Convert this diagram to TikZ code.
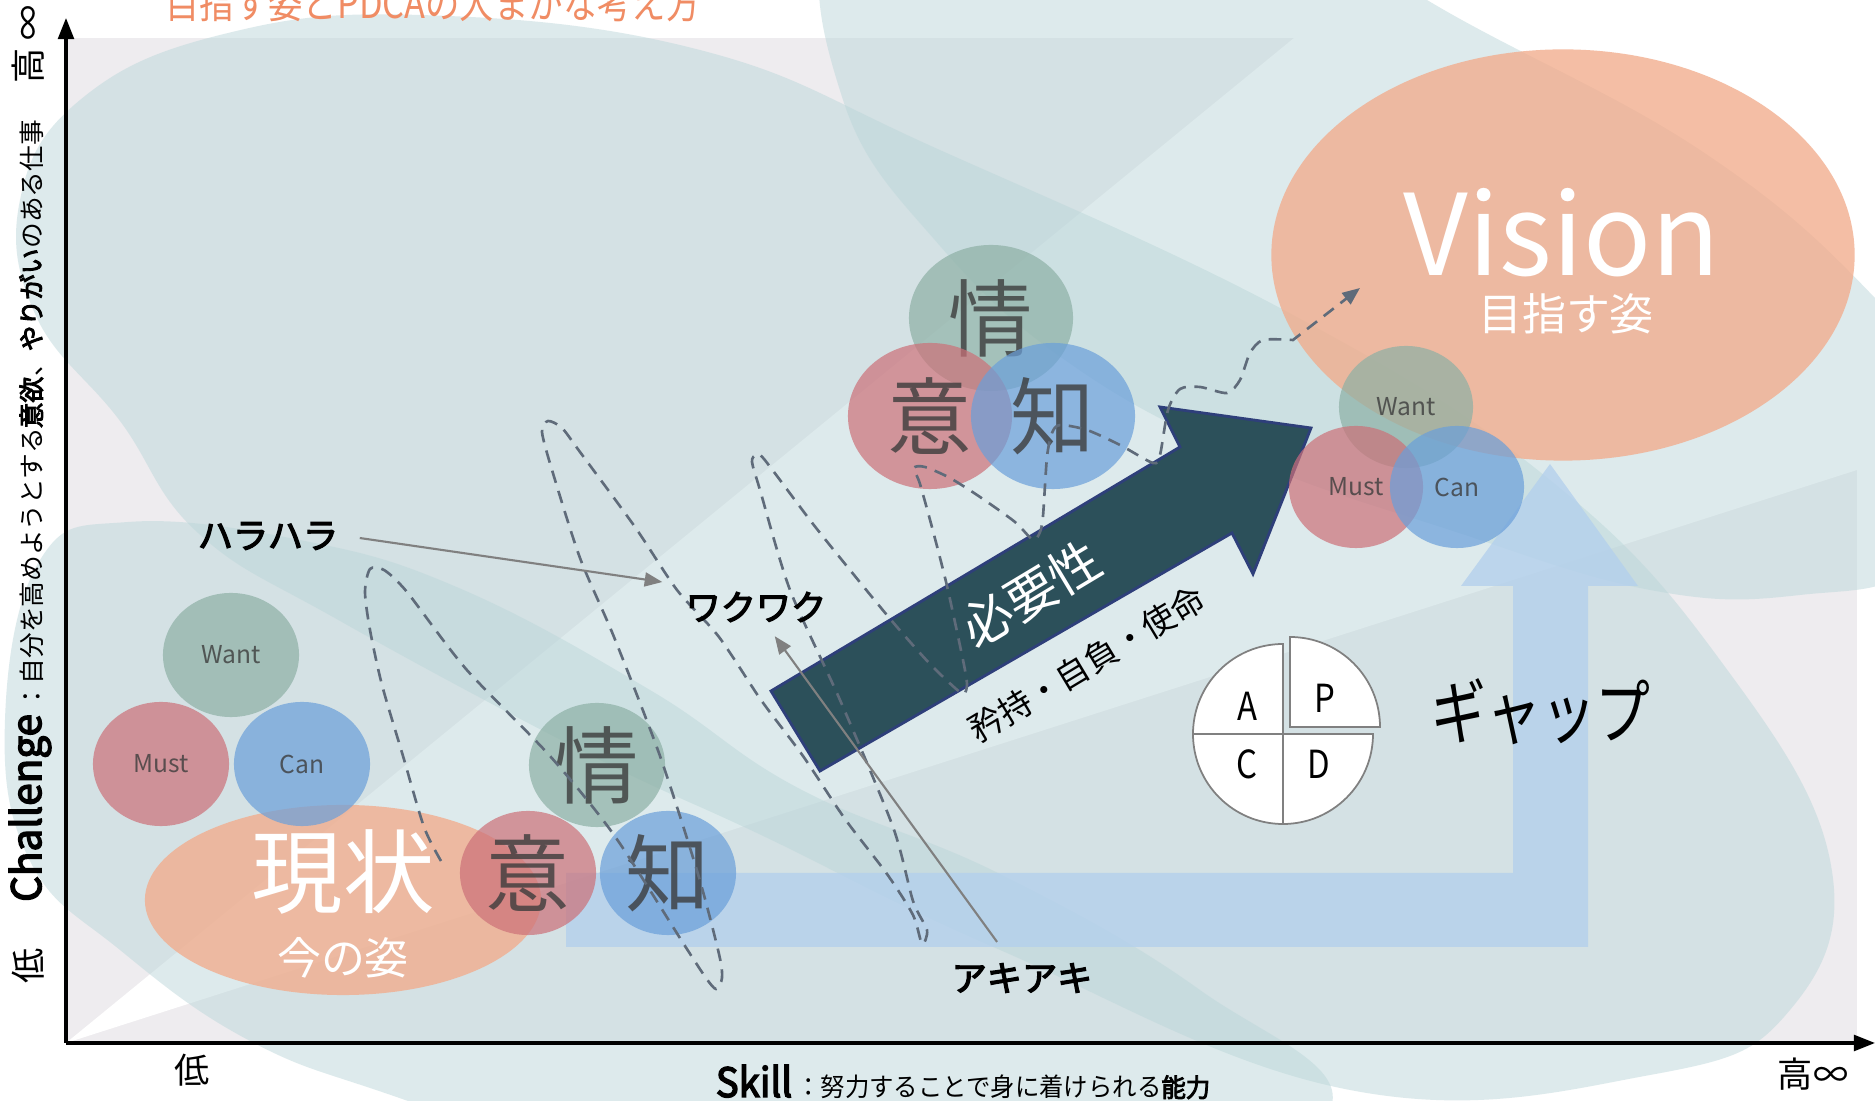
\documentclass[tikz,border=0pt]{standalone}
\usepackage{graphicx}
\usepackage{fontspec}
\setmainfont{Noto Sans CJK JP}[AutoFakeBold=3.5]
\usetikzlibrary{positioning,arrows.meta,shapes.geometric}
\newcommand{\setfs}[1]{\fontsize{#1}{#1}\selectfont}
\newcommand{\nar}[2][0.85]{\scalebox{#1}[1]{#2}}
\definecolor{lav}{RGB}{238,236,239}
\definecolor{haze}{RGB}{188,215,218}
\definecolor{salmon}{RGB}{242,172,140}
\definecolor{sage}{RGB}{141,176,165}
\definecolor{rose}{RGB}{204,112,120}
\definecolor{sky}{RGB}{106,159,218}
\definecolor{gapblue}{RGB}{180,208,236}
\definecolor{deepteal}{RGB}{44,80,90}
\definecolor{navyline}{RGB}{46,63,122}
\definecolor{coilgray}{RGB}{95,107,122}
\definecolor{titleorange}{RGB}{240,140,100}
\definecolor{glyphgray}{RGB}{60,60,60}

\begin{document}
\begin{tikzpicture}[x=0.01cm,y=-0.01cm,
    blob/.style={fill=haze,fill opacity=0.5},
    bubble/.style={ellipse,inner sep=0pt,fill=#1,fill opacity=0.7,text opacity=0.8,text=glyphgray},
    pastel/.style={ellipse,inner sep=0pt,fill=salmon,fill opacity=0.78},
    tag/.style={font={\bfseries\setfs{10}},inner sep=2pt},
    pointer/.style={draw=gray,line width=0.6pt,-{Triangle[length=5pt,width=4pt]}},
    coil/.style={draw=coilgray,line width=0.75pt,dash pattern=on 3.6pt off 2.4pt},
    axis/.style={line width=0.9pt,-{Triangle[length=6pt,width=4.5pt]}},
    sector/.style={fill=white,draw=gray,line width=0.5pt}
  ]
  \useasboundingbox (0,0) rectangle (1875,1101);
  \clip (0,0) rectangle (1875,1101);
  \fill[white] (0,0) rectangle (1875,1101);
  \fill[lav] (66,38) rectangle (1857,1043);
  \fill[white] (66,1043) -- (1294,38) -- (1857,38) -- (1857,470) -- cycle;

  \fill[blob] plot[smooth cycle,tension=0.7] coordinates {(420,15) (700,50) (940,150) (1295,316) (1550,480) (1720,660) (1830,860) (1790,1010) (1650,1075) (1350,1090) (1000,950) (761,835) (592,756) (340,621) (198,533) (120,421) (36,316) (20,200) (80,100) (220,35)};
  \fill[blob] plot[smooth cycle,tension=0.7] coordinates {(835,-80) (843,100) (940,246) (1075,367) (1250,460) (1450,530) (1650,590) (1800,595) (1920,560) (1960,420) (1875,298) (1700,150) (1427,0) (1250,-120) (1000,-160)};
  \fill[blob] plot[smooth cycle,tension=0.7] coordinates {(40,560) (128,522) (300,540) (459,588) (650,690) (800,789) (1000,874) (1200,990) (1330,1110) (1100,1220) (700,1200) (408,1101) (252,1042) (120,950) (30,861) (5,720)};

  \fill[gapblue,fill opacity=0.8] (566,873) -- (1513,873) -- (1513,586) -- (1461,586) -- (1550,464) -- (1638,586) -- (1588,586) -- (1588,947) -- (566,947) -- cycle;

  \node[pastel,minimum width=5.83cm,minimum height=4.11cm] (vision) at (1563,255) {};
  \node[text=white,font=\setfs{32}] (visword) at (1562,233) {Vision};
  \node[text=white,font=\setfs{12.5}] (vissub) at (1566,314) {目指す姿};

  \node[pastel,minimum width=3.96cm,minimum height=1.9cm] (now) at (343,900) {};
  \node[text=white,font=\setfs{26}] (nowword) at (343,872) {現状};
  \node[text=white,font=\setfs{12.5}] (nowsub) at (343,958) {今の姿};

  \node[bubble=sage,minimum width=1.36cm,minimum height=1.24cm,font=\setfs{7}] (wantL) at (231,655) {Want};
  \node[bubble=rose,minimum width=1.36cm,minimum height=1.24cm,font=\setfs{7}] (mustL) at (161,764) {Must};
  \node[bubble=sky,minimum width=1.36cm,minimum height=1.24cm,font=\setfs{7}] (canL) at (302,764) {Can};

  \node[bubble=sage,minimum width=1.36cm,minimum height=1.24cm,font=\setfs{24}] (jouL) at (597,765) {情};
  \node[bubble=rose,minimum width=1.36cm,minimum height=1.24cm,font=\setfs{24}] (iL) at (528,873) {意};
  \node[bubble=sky,minimum width=1.36cm,minimum height=1.24cm,font=\setfs{24}] (chiL) at (668,873) {知};

  \node[bubble=sage,minimum width=1.64cm,minimum height=1.46cm,font=\setfs{24}] (jouH) at (991,318) {情};
  \node[bubble=rose,minimum width=1.64cm,minimum height=1.46cm,font=\setfs{24}] (iH) at (930,416) {意};
  \node[bubble=sky,minimum width=1.64cm,minimum height=1.46cm,font=\setfs{24}] (chiH) at (1053,416) {知};

  \filldraw[fill=deepteal,draw=navyline,line width=0.8pt] (771,691) -- (1180,447) -- (1160,407) -- (1311,428) -- (1253,574) -- (1232,533) -- (820,771) -- cycle;
  \node[rotate=31,text=white,font=\setfs{14.5},inner sep=0pt] (need) at (1031,594) {必要性};
  \node[rotate=31,font=\setfs{9.5},inner sep=0pt] (pride) at (1087,664) {矜持・自負・使命};

  \node[bubble=sage,minimum width=1.34cm,minimum height=1.22cm,font=\setfs{7}] (wantR) at (1406,407) {Want};
  \node[bubble=rose,minimum width=1.34cm,minimum height=1.22cm,font=\setfs{7}] (mustR) at (1356,487) {Must};
  \node[bubble=sky,minimum width=1.34cm,minimum height=1.22cm,font=\setfs{7}] (canR) at (1457,487) {Can};

  \coordinate (aim) at (1360,288);
  \draw[coil,-{Triangle[length=5pt,width=4pt]}] plot[smooth,tension=0.45] coordinates {(441,861) (424,827) (403,756) (382,685) (370,630) (365,592) (370,569) (384,570) (407,592) (466,669) (550,756) (614,835) (685,946) (706,978) (716,989) (722,978) (719,954) (698,874) (660,756) (614,637) (580,558) (552,470) (542,432) (548,421) (562,428) (580,452) (635,527) (677,590) (719,637) (761,700) (803,756) (845,819) (887,874) (913,915) (922,944) (927,930) (913,901) (893,827) (840,700) (790,590) (760,490) (752,462) (756,455) (764,459) (813,524) (863,586) (897,627) (930,664) (955,688) (964,694) (967,684) (963,660) (947,586) (933,531) (920,484) (914,468) (925,467) (950,478) (980,497) (1015,522) (1033,540) (1040,532) (1043,516) (1047,457) (1052,433) (1060,425) (1087,430) (1120,445) (1153,463) (1160,455) (1168,410) (1180,389) (1200,387) (1227,393) (1240,380) (1250,353) (1263,340) (1293,340)} -- (aim);

  \coordinate (pdca) at (1283,734);
  \filldraw[sector] (pdca) -- ++(180:90) arc[start angle=180,end angle=270,radius=90] -- cycle;
  \filldraw[sector] ([shift={(7,-7)}]pdca) -- ++(270:90) arc[start angle=270,end angle=360,radius=90] -- cycle;
  \filldraw[sector] (pdca) -- ++(0:90) arc[start angle=0,end angle=90,radius=90] -- cycle;
  \filldraw[sector] (pdca) -- ++(90:90) arc[start angle=90,end angle=180,radius=90] -- cycle;
  \node[font=\setfs{11}] (plan) at (1325,698) {\nar{P}};
  \node[font=\setfs{11}] (act) at (1247,706) {\nar{A}};
  \node[font=\setfs{11}] (check) at (1247,764) {\nar{C}};
  \node[font=\setfs{11}] (do) at (1319,764) {\nar{D}};
  \node[font=\setfs{20}] (gap) at (1541,712) {\nar[0.78]{ギャップ}};

  \node[tag] (hara) at (268,536) {ハラハラ};
  \node[tag] (waku) at (756,607) {ワクワク};
  \node[tag] (aki) at (1022,978) {アキアキ};
  \draw[pointer,shorten <=4pt,shorten >=4.5pt] (hara.east) -- (waku.north west);
  \draw[pointer,shorten <=4.8pt,shorten >=2.3pt] ([xshift=-0.15cm]aki.north) -- ([xshift=0.14cm]waku.south);

  \coordinate (O) at (66,1043);
  \coordinate (ytip) at (66,18);
  \coordinate (xtip) at (1875,1043);
  \draw[axis] (O) -- (ytip);
  \draw[axis] (O) -- (xtip);

  \node[text=titleorange] (title) at (433,3) {\nar{\setfs{11.5}目指す姿とPDCAの大まかな考え方}};
  \node[rotate=90,font=\setfs{10}] (yhigh) at (28,44) {高 ∞};
  \node[rotate=90,font=\setfs{10}] (ylow) at (28,966) {低};
  \node[font=\setfs{10}] (xlow) at (192,1070) {低};
  \node[font=\setfs{10}] (xhigh) at (1813,1074) {高∞};
  \node[rotate=90] (ylab) at (30,511) {{\bfseries\setfs{11.5}Challenge}\setfs{7.3}\,：自分を高めようとする{\bfseries 意欲}、{\bfseries やりがい}のある仕事};
  \node (xlab) at (963,1082) {\nar[0.95]{{\bfseries\setfs{11.5}Skill}\setfs{7.3}\,：努力することで身に着けられる{\bfseries 能力}}};
\end{tikzpicture}
\end{document}
